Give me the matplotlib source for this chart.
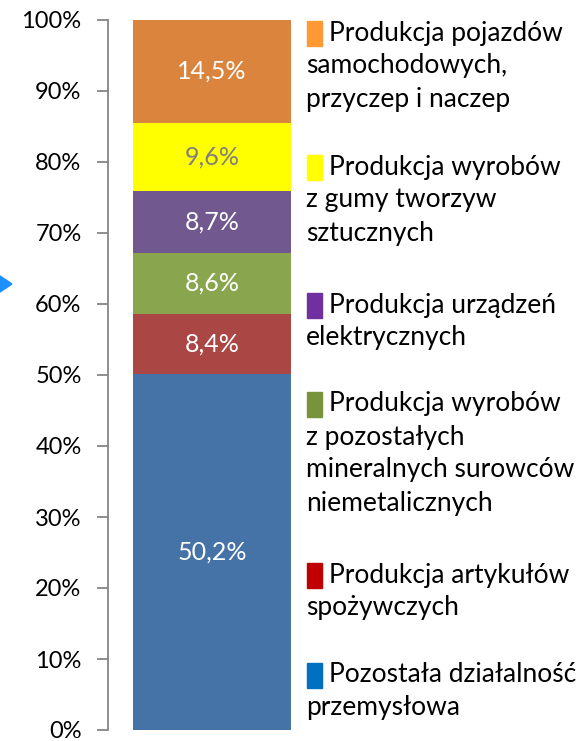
import matplotlib
matplotlib.use("Agg")
import matplotlib.pyplot as plt
from matplotlib.patches import Rectangle, Polygon

# ── Data ──────────────────────────────────────────────────────────────────
categories = [
    "Pozostała działalność\nprzemysłowa",
    "Produkcja artykułów\nspożywczych",
    "Produkcja wyrobów\nz pozostałych\nmineralnych surowców\nniemetalicznych",
    "Produkcja urządzeń\nelektrycznych",
    "Produkcja wyrobów\nz gumy tworzyw\nsztucznych",
    "Produkcja pojazdów\nsamochodowych,\nprzyczep i naczep",
]
shares = [50.2, 8.4, 8.6, 8.7, 9.6, 14.5]
value_labels = ["50,2%", "8,4%", "8,6%", "8,7%", "9,6%", "14,5%"]
yticks = [0, 10, 20, 30, 40, 50, 60, 70, 80, 90, 100]
ytick_labels = [f"{t}%" for t in yticks]

bar_colors = ["#4572A7", "#AA4643", "#89A54E", "#71588F", "#FFFF00", "#DB843D"]
label_colors = ["white", "white", "white", "white", "#7F7F7F", "white"]
legend_colors = ["#0070C0", "#C00000", "#77933C", "#7030A0", "#FFFF00", "#FF9933"]
# top of each legend marker, in pixels from the top of the image
legend_top_px = [663, 563, 392, 293, 155, 21]

W, H = 587, 741
plt.rcParams["font.family"] = ["Lato", "DejaVu Sans"]

fig = plt.figure(figsize=(W / 100, H / 100), dpi=100)
ax = fig.add_axes([108 / W, 11 / H, 208 / W, 710 / H])

# ── Stacked bar ───────────────────────────────────────────────────────────
bottom = 0
for val, col, lab, lcol in zip(shares, bar_colors, value_labels, label_colors):
    ax.bar(0, val, bottom=bottom, width=0.76, color=col, linewidth=0)
    ax.text(0, bottom + val / 2, lab, ha="center", va="center",
            color=lcol, fontsize=18)
    bottom += val

ax.set_xlim(-0.5, 0.5)
ax.set_ylim(0, 100)
ax.set_yticks(yticks)
ax.set_yticklabels(ytick_labels, fontsize=17)
ax.set_xticks([])
for s in ["top", "right", "bottom"]:
    ax.spines[s].set_visible(False)
ax.spines["left"].set_color("#868686")
ax.spines["left"].set_linewidth(1.3)
ax.tick_params(axis="y", direction="out", length=8, width=1.3, color="#868686", pad=11)

# ── Legend (manual, text wraps under the marker) ──────────────────────────
line_px = 33
for label, col, top in zip(categories, legend_colors, legend_top_px):
    fig.patches.append(Rectangle((307 / W, 1 - (top + 25) / H), 15 / W, 25 / H,
                                 transform=fig.transFigure, color=col))
    lines = label.split("\n")
    yc = top + 12
    fig.text(329 / W, 1 - yc / H, lines[0], ha="left", va="center", fontsize=19)
    for i, ln in enumerate(lines[1:], start=1):
        fig.text(306 / W, 1 - (yc + i * line_px) / H, ln, ha="left", va="center",
                 fontsize=19)

# small blue arrow at the left edge
fig.patches.append(Polygon([(0, 1 - 276 / H), (12 / W, 1 - 284 / H), (0, 1 - 292 / H)],
                           closed=True, transform=fig.transFigure, color="#1E90FF"))

fig.savefig("out.png", dpi=100)
